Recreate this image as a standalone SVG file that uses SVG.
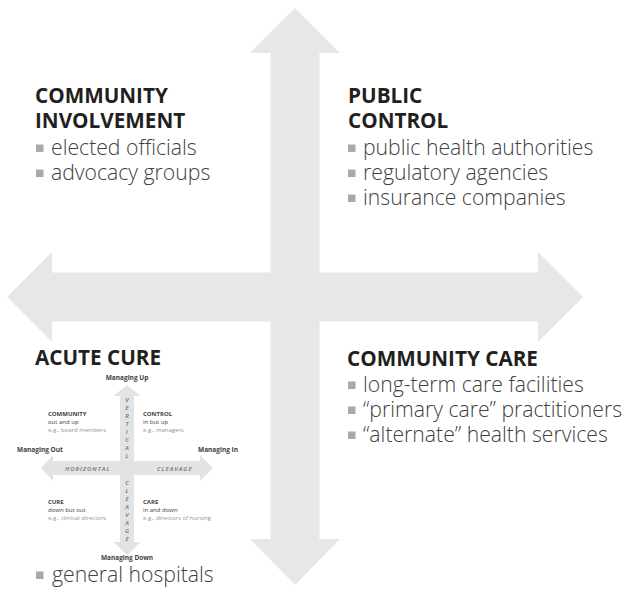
<svg xmlns="http://www.w3.org/2000/svg" width="627" height="592" viewBox="0 0 627 592">
<style>
.arrow{fill:#e6e7e8}
.sarrow{fill:#e2e3e4}
.h{font-family:"Open Sans","Liberation Sans",sans-serif;font-weight:700;font-size:20.7px;fill:#231f20}
.it{font-family:"Open Sans","Liberation Sans",sans-serif;font-weight:300;font-size:21.2px;fill:#414042}
.b{fill:#a7a9ac}
.sm{font-family:"Open Sans","Liberation Sans",sans-serif;font-weight:700;font-size:6.5px;fill:#414042}
.sb{font-family:"Open Sans","Liberation Sans",sans-serif;font-weight:700;font-size:6px;fill:#414042}
.sr{font-family:"Open Sans","Liberation Sans",sans-serif;font-size:6px;fill:#414042}
.sg{font-family:"Open Sans","Liberation Sans",sans-serif;font-size:6px;fill:#939598}
.si{font-family:"Open Sans","Liberation Sans",sans-serif;font-style:italic;font-weight:600;font-size:6px;fill:#6d6e71;letter-spacing:1px}
.sv{font-family:"Open Sans","Liberation Sans",sans-serif;font-style:italic;font-weight:600;font-size:6px;fill:#6d6e71;text-anchor:middle}
</style>
<g id="connectors">
<path class="arrow" d="M295,8 L340,53 L319.5,53 L319.5,272.5 L538,272.5 L538,252 L583,297 L538,342 L538,321.5 L319.5,321.5 L319.5,539 L340,539 L295,585 L250,539 L270.5,539 L270.5,321.5 L52,321.5 L52,342 L7,297 L52,252 L52,272.5 L270.5,272.5 L270.5,53 L250,53 Z"/>
</g>
<g id="community-involvement">
<text class="h" x="35" y="103">COMMUNITY</text>
<text class="h" x="35" y="128">INVOLVEMENT</text>
<rect class="b" x="36" y="144.5" width="7.5" height="7.5"/>
<text class="it" x="51" y="155">elected officials</text>
<rect class="b" x="36" y="169.5" width="7.5" height="7.5"/>
<text class="it" x="51" y="180">advocacy groups</text>
</g>
<g id="public-control">
<text class="h" x="348" y="103">PUBLIC</text>
<text class="h" x="348" y="128">CONTROL</text>
<rect class="b" x="348" y="144.5" width="7.5" height="7.5"/>
<text class="it" x="363" y="155">public health authorities</text>
<rect class="b" x="348" y="169.5" width="7.5" height="7.5"/>
<text class="it" x="363" y="180">regulatory agencies</text>
<rect class="b" x="348" y="194.5" width="7.5" height="7.5"/>
<text class="it" x="363" y="205">insurance companies</text>
</g>
<g id="community-care">
<text class="h" x="347" y="366">COMMUNITY CARE</text>
<rect class="b" x="348" y="381.5" width="7.5" height="7.5"/>
<text class="it" x="363" y="392">long-term care facilities</text>
<rect class="b" x="348" y="406.5" width="7.5" height="7.5"/>
<text class="it" x="363" y="417">“primary care” practitioners</text>
<rect class="b" x="348" y="431.5" width="7.5" height="7.5"/>
<text class="it" x="363" y="442">“alternate” health services</text>
</g>
<g id="acute-cure">
<text class="h" x="35" y="365">ACUTE CURE</text>
<rect class="b" x="36" y="571.5" width="7.5" height="7.5"/>
<text class="it" x="52" y="582">general hospitals</text>
</g>
<g id="inset">
<path class="sarrow" d="M127,385 L140.5,396 L134,396 L134,461 L200,461 L200,455 L213,468 L200,481 L200,475 L134,475 L134,542 L140.5,542 L127,555 L113.5,542 L120,542 L120,475 L53,475 L53,481 L41,468 L53,455 L53,461 L120,461 L120,396 L113.5,396 Z"/>
<text class="sm" x="127" y="380" text-anchor="middle">Managing Up</text>
<text class="sm" x="127" y="560" text-anchor="middle">Managing Down</text>
<text class="sm" x="17" y="452">Managing Out</text>
<text class="sm" x="238" y="452" text-anchor="end">Managing In</text>
<text class="sv" x="127" y="402">V</text>
<text class="sv" x="127" y="410">E</text>
<text class="sv" x="127" y="418">R</text>
<text class="sv" x="127" y="426">T</text>
<text class="sv" x="127" y="434">I</text>
<text class="sv" x="127" y="442">C</text>
<text class="sv" x="127" y="450">A</text>
<text class="sv" x="127" y="458">L</text>
<text class="sv" x="127" y="485">C</text>
<text class="sv" x="127" y="493">L</text>
<text class="sv" x="127" y="501">E</text>
<text class="sv" x="127" y="509">A</text>
<text class="sv" x="127" y="517">V</text>
<text class="sv" x="127" y="525">A</text>
<text class="sv" x="127" y="533">G</text>
<text class="sv" x="127" y="541">E</text>
<text class="si" x="65" y="471">HORIZONTAL</text>
<text class="si" x="157" y="471">CLEAVAGE</text>
<text class="sb" x="48" y="416">COMMUNITY</text>
<text class="sr" x="48" y="424">out and up</text>
<text class="sg" x="48" y="432">e.g., board members</text>
<text class="sb" x="143" y="416">CONTROL</text>
<text class="sr" x="143" y="424">in but up</text>
<text class="sg" x="143" y="432">e.g., managers</text>
<text class="sb" x="48" y="504">CURE</text>
<text class="sr" x="48" y="512">down but out</text>
<text class="sg" x="48" y="520">e.g., clinical directors</text>
<text class="sb" x="143" y="504">CARE</text>
<text class="sr" x="143" y="512">in and down</text>
<text class="sg" x="143" y="520">e.g., directors of nursing</text>
</g>
</svg>
